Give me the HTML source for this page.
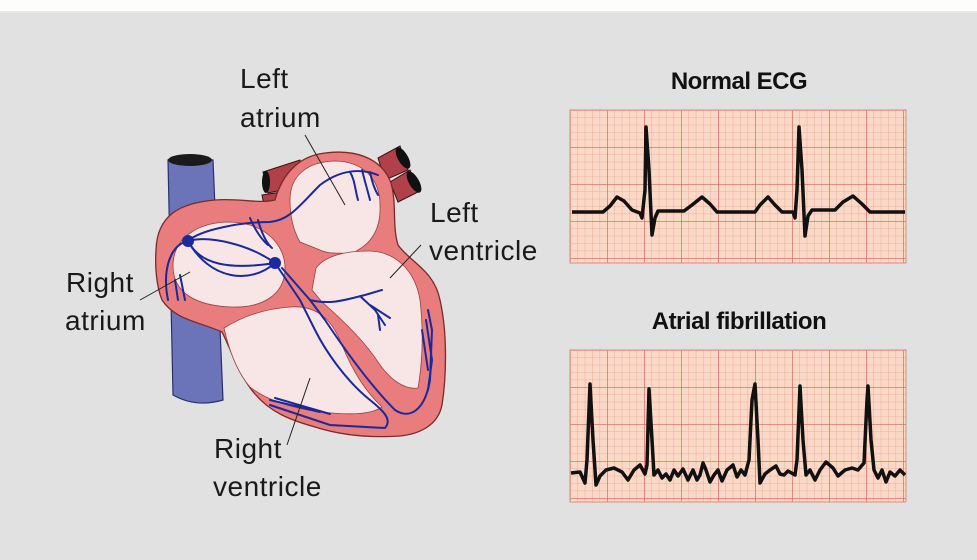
<!DOCTYPE html>
<html><head><style>
html,body{margin:0;padding:0;width:977px;height:560px;overflow:hidden;background:#e1e1e1}
</style></head><body>
<svg width="977" height="560" viewBox="0 0 977 560" xmlns="http://www.w3.org/2000/svg">
<defs>
<pattern id="mn" x="570" y="110" width="7.4" height="7.4" patternUnits="userSpaceOnUse">
<path d="M0 0H7.4M0 0V7.4" stroke="#eea08a" stroke-width="0.8" fill="none"/></pattern>
<pattern id="mj" x="570" y="110" width="37" height="37" patternUnits="userSpaceOnUse">
<path d="M0 0H37M0 0V37" stroke="#d9604a" stroke-width="1.3" fill="none"/></pattern>
<pattern id="mn2" x="570" y="350" width="7.4" height="7.4" patternUnits="userSpaceOnUse">
<path d="M0 0H7.4M0 0V7.4" stroke="#eea08a" stroke-width="0.8" fill="none"/></pattern>
<pattern id="mj2" x="570" y="350" width="37" height="37" patternUnits="userSpaceOnUse">
<path d="M0 0H37M0 0V37" stroke="#d9604a" stroke-width="1.3" fill="none"/></pattern>
</defs>
<rect x="0" y="0" width="977" height="11" fill="#fdfdfb"/>
<rect x="0" y="11" width="977" height="2" fill="#e9e9e9"/>

<!-- vein -->
<path d="M168 160 L173 395 Q196 408 223 400 L213 160 Z" fill="#6b74b8" stroke="#2a3070" stroke-width="1.2"/>
<ellipse cx="190" cy="160" rx="22" ry="6" fill="#1a1a1a"/>
<!-- arteries -->
<g fill="#b0404a" stroke="#3a1010" stroke-width="1">
<path d="M263 172 L300 160 L305 185 L268 193 Z"/>
<path d="M262 195 L295 190 L298 205 L265 210 Z"/>
<path d="M378 158 L400 146 L408 170 L385 180 Z"/>
<path d="M390 182 L410 170 L418 192 L398 202 Z"/>
</g>
<ellipse cx="266" cy="182" rx="4" ry="11" fill="#111"/>
<ellipse cx="403" cy="158" rx="5" ry="12" fill="#111" transform="rotate(-30 403 158)"/>
<ellipse cx="414" cy="182" rx="5" ry="12" fill="#111" transform="rotate(-30 414 182)"/>

<!-- heart wall -->
<path d="M156 250 C157 215 180 203 215 200 C240 198 258 204 275 200 C282 175 298 156 325 153 C355 149 382 158 391 183 C397 205 392 225 398 245 C410 262 434 270 440 300 C448 335 446 380 442 405 C438 425 420 434 400 436 C370 438 340 435 315 427 C290 420 270 412 255 394 C240 377 232 352 222 332 C200 322 175 320 162 300 C156 285 155 265 156 250 Z" fill="#e97c7c" stroke="#7a2a2a" stroke-width="1.3"/>
<!-- chambers -->
<g fill="#f8e6e6" stroke="#9a4040" stroke-width="0.8">
<path d="M173 266 C173 238 198 222 230 222 C265 223 286 245 285 270 C284 295 262 308 232 307 C198 306 173 294 173 266 Z"/>
<path d="M290 200 C290 175 308 162 334 161 C364 161 380 180 380 205 C381 228 372 242 358 250 L352 254 C342 252 330 255 320 250 L300 242 C293 230 290 215 290 200 Z"/>
<path d="M316 268 C325 256 345 251 368 251 C395 251 415 270 420 300 C424 335 422 365 418 388 C405 390 390 380 378 362 C365 342 345 322 322 302 L312 290 Z"/>
<path d="M224 328 C240 318 262 309 290 307 C318 305 332 320 342 345 C352 370 366 392 382 407 C370 415 350 415 320 412 C290 408 265 399 250 387 C237 372 229 350 224 328 Z"/>
</g>
<!-- conduction system -->
<g fill="none" stroke="#1a2a9a" stroke-width="2" stroke-linecap="round">
<path d="M168 300 C162 270 170 245 188 241 C200 230 240 222 270 222 C290 220 300 205 320 185 C340 170 360 168 378 175"/>
<path d="M188 241 C210 235 250 245 275 263"/>
<path d="M188 241 C200 265 230 270 275 263"/>
<path d="M188 241 C210 280 250 285 275 263"/>
<path d="M250 218 C255 230 262 240 268 245 M258 220 C262 235 268 245 272 248"/>
<path d="M275 263 L300 300 L315 330 C325 350 345 380 370 400 C385 412 392 420 385 428 L330 425 L270 405"/>
<path d="M282 268 L310 300 L325 320 C345 350 370 385 395 410 C410 420 425 410 430 380 L432 330 L428 310"/>
<path d="M310 300 C330 305 345 300 365 295 L382 290 M360 296 L375 310 L385 325 M370 305 L390 318 M378 315 L380 330"/>
<path d="M350 172 C355 180 355 190 358 200 M362 170 C365 182 368 192 370 200 M370 172 C372 182 375 190 378 195"/>
<path d="M175 280 L178 300 M180 275 L185 300"/>
<path d="M270 400 L320 412 M275 398 L330 414"/>
<path d="M426 320 L432 360 L428 390 M422 330 L428 370"/>
</g>
<circle cx="188" cy="241" r="6" fill="#1a2a9a"/>
<circle cx="275" cy="263" r="6" fill="#1a2a9a"/>

<!-- leader lines -->
<g stroke="#222" stroke-width="1">
<line x1="305" y1="135" x2="345" y2="205"/>
<line x1="421" y1="245" x2="390" y2="278"/>
<line x1="140" y1="300" x2="190" y2="272"/>
<line x1="310" y1="378" x2="287" y2="445"/>
</g>
<g font-family="Liberation Sans, sans-serif" font-size="28" fill="#1a1a1a" letter-spacing="0.5">
<text x="240" y="88">Left</text>
<text x="240" y="127">atrium</text>
<text x="430" y="222">Left</text>
<text x="429" y="260">ventricle</text>
<text x="66" y="292">Right</text>
<text x="65" y="330">atrium</text>
<text x="214" y="458">Right</text>
<text x="213" y="496">ventricle</text>
</g>

<!-- ECG -->
<g font-family="Liberation Sans, sans-serif" font-size="24" font-weight="bold" fill="#111" text-anchor="middle" letter-spacing="-0.5">
<text x="739" y="89">Normal ECG</text>
<text x="739" y="329">Atrial fibrillation</text>
</g>
<rect x="570" y="110" width="336" height="153" fill="#fbd9c8"/>
<rect x="570" y="110" width="336" height="153" fill="url(#mn)"/>
<rect x="570" y="110" width="336" height="153" fill="url(#mj)" stroke="#e08a78"/>
<rect x="570" y="350" width="336" height="152" fill="#fbd9c8"/>
<rect x="570" y="350" width="336" height="152" fill="url(#mn2)"/>
<rect x="570" y="350" width="336" height="152" fill="url(#mj2)" stroke="#e08a78"/>
<polyline fill="none" stroke="#111" stroke-width="3.5" stroke-linejoin="round" points="572,212 603,212 610,206 617,197 624,201 632,210 640,213 642,218 645,190 646,127 649,170 652,235 655,218 658,211 684,211 692,205 702,197 710,204 717,212 755,212 760,205 768,197 775,205 782,212 793,212 795,218 797,190 799,127 802,170 805,236 808,216 812,210 835,210 843,202 853,196 862,204 870,212 905,212"/>
<polyline fill="none" stroke="#111" stroke-width="3.5" stroke-linejoin="round" points="571,473 580,472 585,483 587,460 590,384 593,440 596,485 600,476 606,470 614,468 622,472 628,480 634,470 640,465 645,474 647,465 649,389 652,440 654,475 658,470 662,478 666,474 670,480 674,470 678,476 683,469 688,480 693,470 697,480 700,475 703,463 706,470 710,482 714,475 718,470 722,481 727,470 733,465 737,477 741,470 745,475 749,460 752,400 755,384 758,440 760,483 765,474 770,470 776,466 780,474 784,475 788,471 795,475 797,460 800,386 803,440 806,475 810,470 815,480 820,470 826,462 833,468 838,476 845,470 852,468 858,470 864,463 867,400 868,386 871,440 874,470 878,478 882,470 886,482 890,472 895,476 900,470 905,475"/>
</svg>
</body></html>
